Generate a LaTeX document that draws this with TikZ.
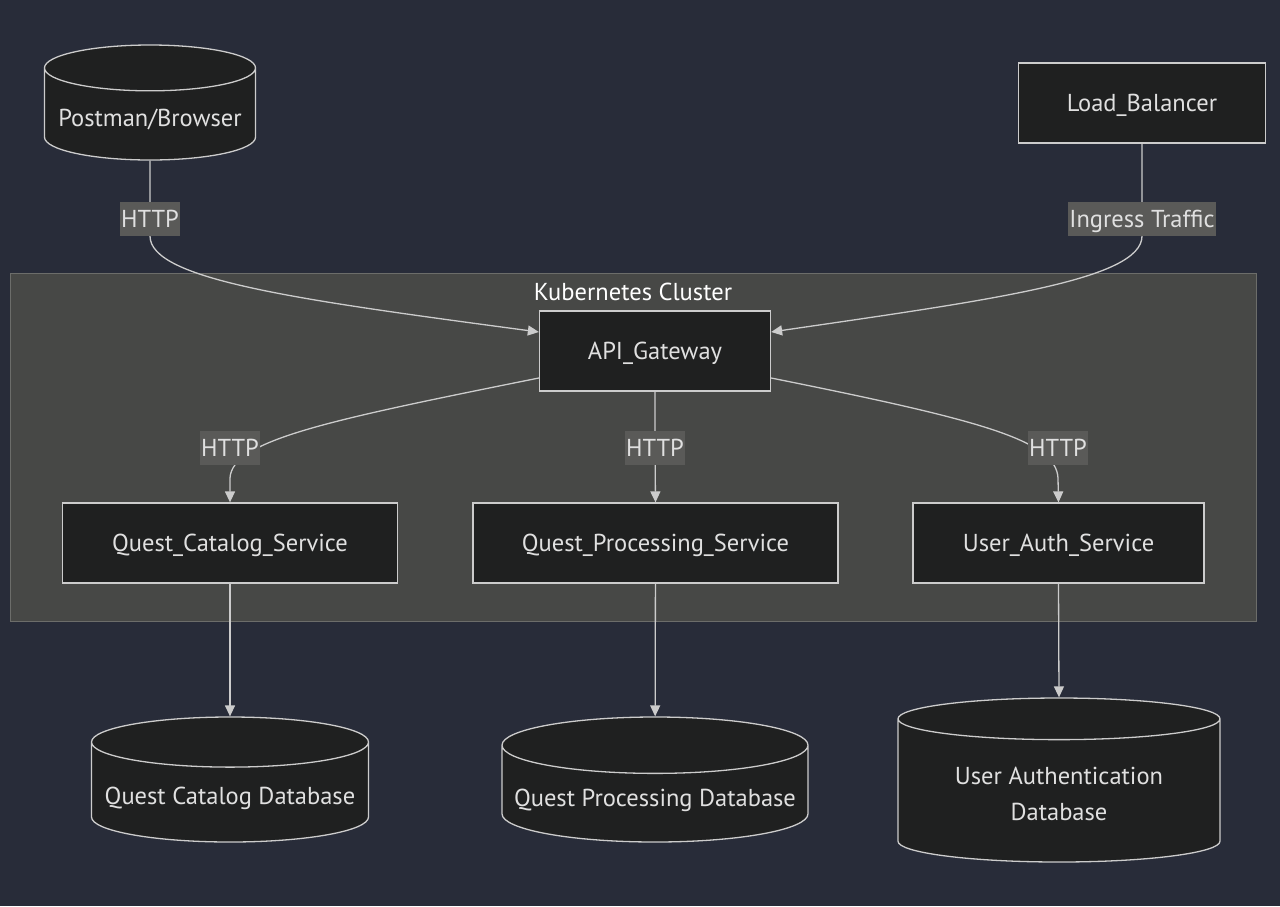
\documentclass[tikz,border=0pt]{standalone}
\usepackage{fontspec}
\setmainfont{PT Sans}
\usetikzlibrary{arrows.meta,shapes.geometric}

\definecolor{bgnavy}{HTML}{282C39}
\definecolor{clusterfill}{HTML}{474846}
\definecolor{clusterline}{HTML}{6C6D6A}
\definecolor{nodefill}{HTML}{1F2020}
\definecolor{nodeline}{HTML}{CCCCCC}
\definecolor{textgrey}{HTML}{E0E0E0}
\definecolor{lblfill}{HTML}{5A5A58}

\tikzset{
  svc/.style={draw=nodeline, fill=nodefill, line width=1.3pt, text=textgrey,
    minimum height=80pt, inner sep=0pt, text height=17pt, text depth=0pt},
  db/.style={cylinder, shape border rotate=90, draw=nodeline, fill=nodefill,
    line width=1.3pt, text=textgrey, inner sep=0pt, align=center,
    anchor=shape center, text height=25pt, text depth=0pt},
  flow/.style={draw=nodeline, line width=1.3pt},
  lbl/.style={fill=lblfill, text=textgrey, inner xsep=1pt, minimum height=34pt,
    text height=17pt, text depth=0pt},
  >={Triangle[length=11pt,width=10pt]}
}

\begin{document}
\begin{tikzpicture}[x=1pt,y=-1pt,font=\fontsize{24.5}{36}\selectfont]
  \useasboundingbox[fill=bgnavy] (0,0) rectangle (1280,906);

  % cluster
  \node[draw=clusterline, fill=clusterfill, line width=1pt,
    minimum width=1246pt, minimum height=348pt] (k8s) at (633,447) {};
  \node[text=white] (k8stitle) at (633,292) {Kubernetes Cluster};

  % outside
  \node[db, minimum width=211pt, minimum height=115pt, aspect=0.25] (browser) at (150,102.5) {Postman/Browser};
  \node[svc, minimum width=247pt] (lb) at (1142,103) {Load\_Balancer};

  % services
  \node[svc, minimum width=231pt] (api) at (655,351) {API\_Gateway};
  \node[svc, minimum width=335pt] (catalog) at (230,543) {Quest\_Catalog\_Service};
  \node[svc, minimum width=365pt] (processing) at (655.5,543) {Quest\_Processing\_Service};
  \node[svc, minimum width=291pt] (auth) at (1058.5,543) {User\_Auth\_Service};

  % databases
  \node[db, minimum width=277pt, minimum height=125pt, aspect=0.2] (catalogdb) at (230,779.5) {Quest Catalog Database};
  \node[db, minimum width=306pt, minimum height=125pt, aspect=0.2] (processingdb) at (655,779.5) {Quest Processing Database};
  \node[db, minimum width=322pt, minimum height=164pt, aspect=0.2,
    text height=60pt, text depth=1pt] (authdb) at (1059,780) {User Authentication\\Database};

  % label spots
  \coordinate (h1) at (150,219);
  \coordinate (h2) at (1142,219);
  \coordinate (h3) at (230,448);
  \coordinate (h4) at (655,448);
  \coordinate (h5) at (1058,448);

  \draw[flow,->] (browser.south) -- (h1) -- ++(0,17)
    .. controls (150,280) and (300,300) .. ([yshift=19pt]api.west);
  \draw[flow,->] (lb.south) -- (h2) -- ++(0,17)
    .. controls (1142,280) and (990,300) .. ([yshift=19pt]api.east);
  \draw[flow,->] ([yshift=-27pt]api.west)
    .. controls (330,420) and (232,440) .. (230,478) -- (catalog.north);
  \draw[flow,->] (api.south) -- (h4) -- (processing.north);
  \draw[flow,->] ([yshift=-27pt]api.east)
    .. controls (980,420) and (1056,440) .. (1058,478) -- (auth.north);

  \draw[flow,->] (catalog) -- (catalogdb);
  \draw[flow,->] (processing) -- (processingdb);
  \draw[flow,->] (auth.south) -- (authdb.north);

  % edge labels
  \node[lbl] (t1) at (h1) {HTTP};
  \node[lbl] (t2) at (h2) {Ingress Traffic};
  \node[lbl] (t3) at (h3) {HTTP};
  \node[lbl] (t4) at (h4) {HTTP};
  \node[lbl] (t5) at (h5) {HTTP};
\end{tikzpicture}
\end{document}
